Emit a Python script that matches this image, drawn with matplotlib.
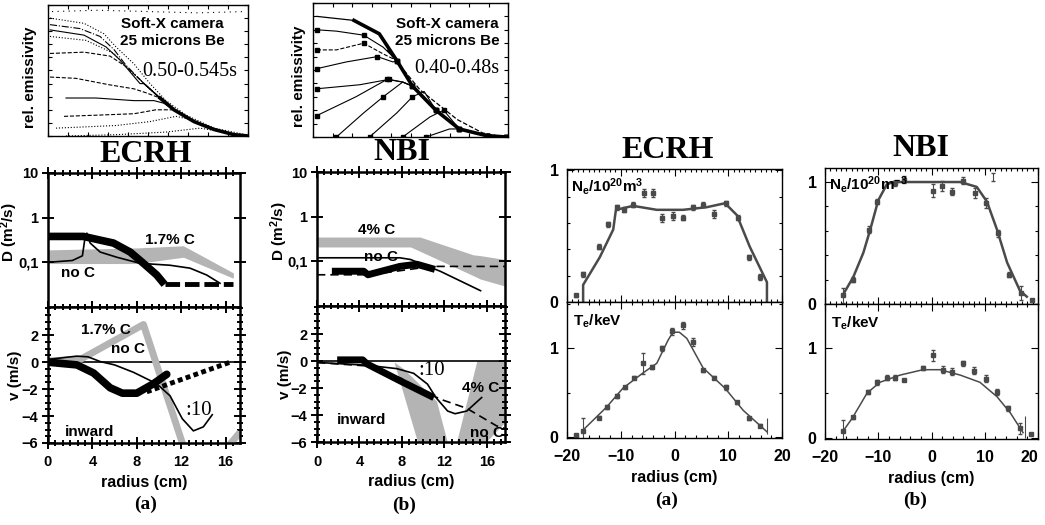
import matplotlib
matplotlib.use('Agg')
import matplotlib.pyplot as plt
from matplotlib.ticker import MultipleLocator, NullLocator, NullFormatter

plt.rcParams['font.family'] = ['Liberation Sans', 'DejaVu Sans']
plt.rcParams['font.weight'] = 'bold'
plt.rcParams['axes.labelweight'] = 'bold'
plt.rcParams['mathtext.fontset'] = 'custom'
plt.rcParams['mathtext.rm'] = 'Liberation Sans:bold'
plt.rcParams['mathtext.it'] = 'Liberation Sans:bold'
plt.rcParams['mathtext.bf'] = 'Liberation Sans:bold'
plt.rcParams['mathtext.default'] = 'rm'

W, H = 1045, 525
SERIF = 'Liberation Serif'
GRAY = '#b4b4b4'
DARK = '#4a4a4a'

# ---------- soft-X emissivity profiles (normalised radius, rel. emissivity) ----------
sxa_env_r = [0.48, 0.56, 0.63, 0.73, 0.83, 0.93, 1.0]
sxa_env = [0.40, 0.29, 0.20, 0.11, 0.05, 0.01, 0.0]
sxa_r = [[0.01, 0.18, 0.28, 0.34, 0.43, 0.51, 0.59, 0.69, 0.83, 0.99],
         [0.01, 0.16, 0.26, 0.33, 0.39],
         [0.01, 0.18, 0.29, 0.36, 0.46],
         [0.01, 0.19, 0.33, 0.41],
         [0.01, 0.18, 0.31, 0.39, 0.46],
         [0.01, 0.14, 0.31, 0.43, 0.49],
         [0.09, 0.24, 0.43, 0.53, 0.58],
         [0.08, 0.26, 0.43, 0.54, 0.61],
         [0.04, 0.34, 0.51, 0.64, 0.73],
         [0.09, 0.34, 0.59, 0.76, 0.84]]
sxa_e = [[0.90, 0.86, 0.78, 0.68, 0.55, 0.40, 0.27, 0.16, 0.06, 0.01],
         [0.85, 0.82, 0.76, 0.66, 0.54],
         [0.81, 0.77, 0.68, 0.58, 0.40],
         [0.76, 0.73, 0.63, 0.50],
         [0.63, 0.64, 0.61, 0.53, 0.43],
         [0.45, 0.44, 0.39, 0.36, 0.33],
         [0.29, 0.29, 0.27, 0.27, 0.25],
         [0.15, 0.16, 0.17, 0.20, 0.20],
         [0.06, 0.08, 0.11, 0.15, 0.12],
         [0.0, 0.01, 0.03, 0.06, 0.04]]
sxa_ls = [':', '-.', '-', ':', '--', '--', '-', '--', ':', ':']
sxa_top_r = [0.02, 0.25, 0.5, 0.75, 0.99]
sxa_top = [0.95, 0.96, 0.95, 0.94, 0.95]

sxb_env_r = [0.02, 0.21, 0.34, 0.43, 0.51, 0.63, 0.75, 0.89, 0.99]
sxb_env = [0.90, 0.87, 0.77, 0.57, 0.38, 0.20, 0.06, 0.01, 0.0]
sxb_out_r = [0.38, 0.55, 0.74, 0.87, 0.98]
sxb_out = [0.65, 0.35, 0.13, 0.03, 0.0]
sxb_r = [[0.02, 0.12, 0.26, 0.36],
         [0.02, 0.12, 0.26, 0.36],
         [0.02, 0.17, 0.33, 0.41],
         [0.02, 0.24, 0.39, 0.46],
         [0.02, 0.22, 0.38, 0.46],
         [0.12, 0.26, 0.36, 0.46],
         [0.29, 0.43, 0.51, 0.57],
         [0.46, 0.60, 0.67],
         [0.58, 0.70]]
sxb_e = [[0.80, 0.79, 0.76, 0.67],
         [0.65, 0.65, 0.70, 0.62],
         [0.51, 0.56, 0.60, 0.56],
         [0.36, 0.39, 0.43, 0.41],
         [0.16, 0.30, 0.43, 0.41],
         [0.0, 0.18, 0.30, 0.41],
         [0.0, 0.18, 0.30, 0.34],
         [0.0, 0.15, 0.20],
         [0.0, 0.06]]
sxb_ls = ['-', '--', '-', '-', '-', '-', '-', '-', '-']

# ---------- (a) ECRH transport coefficients ----------
a_gray_r = [0, 4, 8, 12.2, 16.7]
a_gray_hi = [0.19, 0.20, 0.21, 0.235, 0.058]
a_gray_lo = [0.094, 0.094, 0.094, 0.13, 0.044]
a_thick_r = [0, 3.2, 5.9, 7.4, 8.6, 9.8, 10.5]
a_thick_D = [0.38, 0.38, 0.27, 0.17, 0.095, 0.052, 0.032]
a_dash_r = [10.5, 16.7]
a_dash_D = [0.032, 0.032]
a_thin_r = [0, 2.2, 3.1, 3.3, 3.5, 3.8, 4.7, 6.2, 8.3, 11.0, 12.8, 14.3, 15.5]
a_thin_D = [0.1, 0.11, 0.14, 0.31, 0.45, 0.27, 0.17, 0.13, 0.095, 0.086, 0.074, 0.052, 0.034]

a_vgray_r = [0, 2.9, 8.6, 12.5]
a_vgray = [0.1, 0.2, 2.8, -7.0]
a_vgray2_r = [15.5, 17.3]
a_vgray2 = [-7.0, -5.2]
a_vthin_r = [0, 1.5, 2.6, 3.6, 4.7, 6.0, 7.7, 9.8, 11.0, 12.1, 13.1, 14.0, 14.8]
a_vthin = [0.2, 0.35, 0.45, 0.4, 0.05, -0.2, -0.75, -1.6, -2.5, -4.2, -5.1, -4.8, -3.9]
a_vthick_r = [0, 2.6, 4.1, 5.6, 6.7, 8.0, 9.5, 10.7]
a_vthick = [0.0, -0.2, -0.8, -1.9, -2.3, -2.3, -1.6, -0.9]
a_vdot_r = [8.9, 16.4]
a_vdot = [-2.2, 0.0]

# ---------- (b) NBI transport coefficients ----------
b_gray_r = [0, 8.8, 9.7, 14.7, 15.4, 17.7]
b_gray_hi = [0.35, 0.35, 0.35, 0.14, 0.134, 0.11]
b_gray_lo = [0.21, 0.21, 0.168, 0.048, 0.04, 0.028]
b_thick_r = [1.4, 4.4, 4.8, 7.8, 9.4, 11.1]
b_thick_D = [0.06, 0.06, 0.05, 0.077, 0.086, 0.066]
b_thin_r = [0, 7.8, 8.8, 11.6, 15.4]
b_thin_D = [0.12, 0.12, 0.11, 0.06, 0.022]
b_dash_r = [0, 5, 9.5, 11, 17.7]
b_dash_D = [0.05, 0.05, 0.07, 0.077, 0.077]

b_vgray1_r = [7.3, 8.2, 11.3, 12.3, 9.5]
b_vgray1 = [-0.1, -0.6, -3.0, -6.0, -6.0]
b_vgray2_r = [13.2, 15.1, 17.7, 17.7, 16.0]
b_vgray2 = [-6.0, 0.0, 0.0, -4.6, -6.0]
b_vthick_r = [1.9, 4.3, 4.7, 7.8, 11.0]
b_vthick = [0.1, 0.1, -0.2, -1.45, -2.7]
b_vthin_r = [0.3, 4.7, 7.5, 9.1, 10.4, 11.2, 12.3, 13.0, 14.1, 15.5]
b_vthin = [-0.1, -0.3, -0.55, -0.9, -1.7, -2.7, -3.7, -3.9, -3.7, -2.7]
b_vdash_r = [0, 4.7, 8, 11, 11.9, 14.1, 16.9, 17.7]
b_vdash = [-0.1, -0.35, -1.3, -2.6, -2.9, -3.5, -4.8, -5.0]

# ---------- density / temperature profiles ----------
ecrh_ne_r = [-18.3, -17.0, -14.0, -12.3, -10.7, -9.4, -7.7, -5.7, -4.0, -2.3, -0.3, 1.6, 3.4, 5.3, 7.3, 9.5, 11.8, 13.9, 15.9]
ecrh_ne = [0.05, 0.21, 0.42, 0.59, 0.72, 0.70, 0.74, 0.83, 0.83, 0.64, 0.65, 0.64, 0.72, 0.74, 0.67, 0.75, 0.64, 0.34, 0.19]
ecrh_ne_err = [0.01, 0.02, 0.02, 0.02, 0.02, 0.02, 0.02, 0.03, 0.03, 0.03, 0.03, 0.02, 0.02, 0.02, 0.03, 0.02, 0.02, 0.02, 0.02]
ecrh_ne_fit_r = [-17.0, -17.0, -13.9, -11.4, -10.9, -7.7, -3.3, 1.6, 6.0, 9.4, 11.6, 14.0, 17.2, 17.2]
ecrh_ne_fit = [0.0, 0.13, 0.34, 0.55, 0.70, 0.73, 0.70, 0.70, 0.72, 0.75, 0.66, 0.42, 0.15, 0.0]

ecrh_te_r = [-18.3, -17.0, -14.0, -12.6, -10.7, -9.2, -7.5, -5.8, -4.1, -2.4, -0.5, 1.6, 3.4, 5.3, 7.3, 9.5, 11.6, 13.9, 15.9]
ecrh_te = [0.02, 0.07, 0.22, 0.34, 0.46, 0.56, 0.67, 0.83, 0.79, 1.0, 1.19, 1.26, 1.07, 0.75, 0.67, 0.56, 0.39, 0.21, 0.13]
ecrh_te_err = [0.01, 0.15, 0.02, 0.02, 0.02, 0.02, 0.02, 0.12, 0.02, 0.03, 0.04, 0.04, 0.05, 0.02, 0.02, 0.03, 0.02, 0.02, 0.02]
ecrh_te_fit_r = [-17.0, -12.6, -9.6, -5.9, -3.3, -1.2, -0.3, 0.9, 2.3, 5.3, 9.4, 12.8, 17.2]
ecrh_te_fit = [0.08, 0.34, 0.55, 0.72, 0.83, 1.09, 1.18, 1.18, 1.11, 0.78, 0.55, 0.30, 0.06]

nbi_ne_r = [-16.7, -14.7, -11.7, -10.2, -6.8, -5.2, 0.3, 2.0, 3.8, 5.9, 8.2, 10.2, 12.5, 14.6, 16.8, 18.9]
nbi_ne = [0.07, 0.20, 0.61, 0.84, 0.99, 1.02, 0.93, 0.97, 0.92, 1.01, 0.91, 0.83, 0.58, 0.24, 0.09, 0.03]
nbi_ne_err = [0.06, 0.02, 0.03, 0.02, 0.02, 0.03, 0.05, 0.04, 0.03, 0.03, 0.04, 0.04, 0.03, 0.02, 0.06, 0.0]
nbi_ne_fit_r = [-16.7, -14.7, -12.8, -11.5, -10.0, -8.4, -7.2, 5.4, 8.5, 10.4, 12.3, 14.2, 16.6, 17.9]
nbi_ne_fit = [0.07, 0.22, 0.42, 0.61, 0.85, 0.98, 1.0, 1.0, 0.96, 0.84, 0.61, 0.34, 0.11, 0.06]

nbi_te_r = [-16.6, -14.8, -11.9, -10.2, -8.4, -6.8, -5.2, -1.6, 0.3, 2.2, 3.9, 6.0, 8.0, 10.2, 12.3, 14.4, 16.6, 18.6]
nbi_te = [0.08, 0.23, 0.51, 0.62, 0.67, 0.67, 0.64, 0.78, 0.92, 0.76, 0.74, 0.83, 0.75, 0.66, 0.51, 0.33, 0.11, 0.04]
nbi_te_err = [0.12, 0.02, 0.02, 0.03, 0.03, 0.03, 0.01, 0.02, 0.06, 0.04, 0.04, 0.03, 0.04, 0.04, 0.03, 0.03, 0.06, 0.0]
nbi_te_fit_r = [-16.7, -14.9, -12.1, -9.7, -5.9, -1.6, 1.6, 5.4, 9.1, 12.3, 14.8, 17.2]
nbi_te_fit = [0.07, 0.22, 0.50, 0.62, 0.70, 0.76, 0.76, 0.70, 0.62, 0.46, 0.28, 0.06]

edge_bar_r = [17.3, 11.5, 17.6]
edge_bar_v = [0.13, 1.04, 0.12]
edge_bar_err = [0.09, 0.035, 0.12]


def rect(l, t, r, b):
    return [l / W, 1 - b / H, (r - l) / W, (b - t) / H]


def ftext(x, y, s, **kw):
    fig.text(x / W, 1 - y / H, s, ha='center', va='center', **kw)


def style_left(ax):
    for s in ax.spines.values():
        s.set_linewidth(1.8)
    ax.tick_params(which='both', direction='inout', top=True, right=True, width=1.4, labelsize=10.5)
    ax.tick_params(which='major', length=8)
    ax.tick_params(which='minor', length=5)
    ax.tick_params(axis='x', pad=5)
    ax.tick_params(axis='y', pad=3)


def style_right(ax):
    for s in ax.spines.values():
        s.set_linewidth(1.0)
    ax.tick_params(which='both', direction='in', top=True, right=True, width=0.8, labelsize=11.5)
    ax.tick_params(which='major', length=5)
    ax.tick_params(which='minor', length=2.5)
    ax.tick_params(axis='x', pad=8)
    ax.tick_params(axis='y', pad=6)


def merged(r, e, env_r, env_e):
    rr = list(r) + [x for x in env_r if x > r[-1]]
    ee = list(e) + [y for x, y in zip(env_r, env_e) if x > r[-1]]
    return rr, ee


def softx(ax, env_r, env_e, curves_r, curves_e, styles, marker):
    for r, e, ls in zip(curves_r, curves_e, styles):
        rr, ee = merged(r, e, env_r, env_e)
        ax.plot(rr, ee, color='k', lw=0.8, ls=ls, marker=marker, ms=3, markevery=2)
    ax.plot(env_r, env_e, color='k', lw=0.9)
    ax.plot(env_r[1:], env_e[1:], color='k', lw=2.6)
    ax.set_xlim(0, 1)
    ax.set_ylim(0, 1)
    ax.xaxis.set_major_locator(MultipleLocator(0.1))
    ax.yaxis.set_major_locator(MultipleLocator(0.1))
    ax.xaxis.set_major_formatter(NullFormatter())
    ax.yaxis.set_major_formatter(NullFormatter())
    ax.tick_params(direction='in', top=True, right=True, length=3, width=0.8)
    for s in ax.spines.values():
        s.set_linewidth(1.0)


fig = plt.figure(figsize=(W / 100, H / 100), dpi=100)

# soft-X panels
ax = fig.add_axes(rect(48, 5, 248, 136))
softx(ax, sxa_env_r, sxa_env, sxa_r, sxa_e, sxa_ls, None)
ax.plot(sxa_top_r, sxa_top, color='k', lw=0.8, ls=(0, (1, 4)))
ax.text(0.62, 0.79, 'Soft-X camera\n25 microns Be', transform=ax.transAxes, ha='center', va='center',
        fontsize=11, linespacing=1.2)
ax.text(0.71, 0.49, '0.50-0.545s', transform=ax.transAxes, ha='center', va='center',
        fontsize=14.5, family=SERIF, fontweight='normal')
ax.text(-0.09, 0.45, 'rel. emissivity', transform=ax.transAxes, rotation=90, ha='center', va='center', fontsize=11)

ax = fig.add_axes(rect(313, 3, 508, 137))
softx(ax, sxb_env_r, sxb_env, sxb_r, sxb_e, sxb_ls, 's')
ax.plot(sxb_out_r, sxb_out, color='k', lw=0.9, ls='--')
ax.text(0.69, 0.78, 'Soft-X camera\n25 microns Be', transform=ax.transAxes, ha='center', va='center',
        fontsize=11, linespacing=1.2, bbox=dict(fc='white', ec='none', pad=0.5))
ax.text(0.74, 0.51, '0.40-0.48s', transform=ax.transAxes, ha='center', va='center',
        fontsize=14.5, family=SERIF, fontweight='normal', bbox=dict(fc='white', ec='none', pad=0.5))
ax.text(-0.07, 0.45, 'rel. emissivity', transform=ax.transAxes, rotation=90, ha='center', va='center', fontsize=11)

# (a) D
ax = fig.add_axes(rect(48, 173, 240, 307))
style_left(ax)
ax.fill_between(a_gray_r, a_gray_lo, a_gray_hi, color=GRAY, lw=0)
ax.plot(a_thick_r, a_thick_D, color='k', lw=5.5, solid_capstyle='butt')
ax.plot(a_dash_r, a_dash_D, color='k', lw=3.5, dashes=(3, 1))
ax.plot(a_thin_r, a_thin_D, color='k', lw=1.2)
ax.set_yscale('log')
ax.set_ylim(0.01, 10)
ax.set_xlim(0, 17.3)
ax.set_yticks([0.1, 1, 10], labels=['0,1', '1', '10'])
ax.yaxis.set_minor_locator(NullLocator())
ax.xaxis.set_major_locator(MultipleLocator(4))
ax.xaxis.set_minor_locator(MultipleLocator(4 / 6))
ax.xaxis.set_major_formatter(NullFormatter())
ax.text(11.0, 0.31, '1.7% C', ha='center', va='center', fontsize=11)
ax.text(2.7, 0.058, 'no C', ha='center', va='center', fontsize=11)
ax.text(-0.2, 0.56, 'D (m$^2$/s)', transform=ax.transAxes, rotation=90, ha='center', va='center', fontsize=11)

# (a) v
ax = fig.add_axes(rect(48, 307, 240, 443))
style_left(ax)
ax.axhline(0, color='k', lw=1.2)
ax.plot(a_vgray_r, a_vgray, color=GRAY, lw=5, solid_capstyle='butt')
ax.plot(a_vgray2_r, a_vgray2, color=GRAY, lw=5, solid_capstyle='butt')
ax.plot(a_vthin_r, a_vthin, color='k', lw=1.2)
ax.plot(a_vthick_r, a_vthick, color='k', lw=5.5, solid_capstyle='round')
ax.plot(a_vdot_r, a_vdot, color='k', lw=3.5, dashes=(1, 0.7))
ax.set_xlim(0, 17.3)
ax.set_ylim(-6, 4.1)
ax.set_yticks([-6, -4, -2, 0, 2])
ax.yaxis.set_minor_locator(MultipleLocator(0.5))
ax.set_xticks([0, 4, 8, 12, 16])
ax.xaxis.set_minor_locator(MultipleLocator(4 / 6))
ax.text(5.2, 2.4, '1.7% C', ha='center', va='center', fontsize=11)
ax.text(7.2, 1.0, 'no C', ha='center', va='center', fontsize=11)
ax.text(13.6, -3.6, ':10', ha='center', va='center', fontsize=15, family=SERIF, fontweight='normal')
ax.text(3.7, -5.2, 'inward', ha='center', va='center', fontsize=11)
ax.text(-0.17, 0.5, 'v (m/s)', transform=ax.transAxes, rotation=90, ha='center', va='center', fontsize=11)
ax.set_xlabel('radius (cm)', fontsize=11.5, labelpad=4)

# (b) D
ax = fig.add_axes(rect(317, 172, 505, 306))
style_left(ax)
ax.fill_between(b_gray_r, b_gray_lo, b_gray_hi, color=GRAY, lw=0)
ax.plot(b_dash_r, b_dash_D, color='k', lw=1.2, dashes=(5, 3))
ax.plot(b_thick_r, b_thick_D, color='k', lw=5, solid_capstyle='butt')
ax.plot(b_thin_r, b_thin_D, color='k', lw=1.2)
ax.set_yscale('log')
ax.set_ylim(0.01, 10)
ax.set_xlim(0, 17.7)
ax.set_yticks([0.1, 1, 10], labels=['0,1', '1', '10'])
ax.yaxis.set_minor_locator(NullLocator())
ax.xaxis.set_major_locator(MultipleLocator(4))
ax.xaxis.set_minor_locator(MultipleLocator(4 / 6))
ax.xaxis.set_major_formatter(NullFormatter())
ax.text(5.6, 0.5, '4% C', ha='center', va='center', fontsize=11)
ax.text(6.0, 0.125, 'no C', ha='center', va='center', fontsize=11)
ax.text(-0.2, 0.56, 'D (m$^2$/s)', transform=ax.transAxes, rotation=90, ha='center', va='center', fontsize=11)

# (b) v
ax = fig.add_axes(rect(317, 306, 505, 442))
style_left(ax)
ax.fill(b_vgray1_r, b_vgray1, color=GRAY, lw=0)
ax.fill(b_vgray2_r, b_vgray2, color=GRAY, lw=0)
ax.axhline(0, color='k', lw=1.2)
ax.plot(b_vdash_r, b_vdash, color='k', lw=1.2, dashes=(5, 3))
ax.plot(b_vthick_r, b_vthick, color='k', lw=5, solid_capstyle='butt')
ax.plot(b_vthin_r, b_vthin, color='k', lw=1.2)
ax.set_xlim(0, 17.7)
ax.set_ylim(-6, 4.1)
ax.set_yticks([-6, -4, -2, 0, 2])
ax.yaxis.set_minor_locator(MultipleLocator(0.5))
ax.set_xticks([0, 4, 8, 12, 16])
ax.xaxis.set_minor_locator(MultipleLocator(4 / 6))
ax.text(10.8, -0.7, ':10', ha='center', va='center', fontsize=15, family=SERIF, fontweight='normal')
ax.text(15.4, -2.0, '4% C', ha='center', va='center', fontsize=11)
ax.text(16.0, -5.3, 'no C', ha='center', va='center', fontsize=11)
ax.text(4.2, -4.4, 'inward', ha='center', va='center', fontsize=11)
ax.text(-0.17, 0.5, 'v (m/s)', transform=ax.transAxes, rotation=90, ha='center', va='center', fontsize=11)
ax.set_xlabel('radius (cm)', fontsize=11.5, labelpad=4)


def profile(ax, r, v, err, fit_r, fit_v, lw):
    ax.plot(fit_r, fit_v, color=DARK, lw=lw)
    ax.errorbar(r, v, yerr=err, fmt='s', ms=3.5, color=DARK, ecolor=DARK, elinewidth=0.8, capsize=1.5)
    ax.set_xlim(-20, 20)
    style_right(ax)


# ECRH Ne / Te
ax = fig.add_axes(rect(567, 169, 782, 302))
profile(ax, ecrh_ne_r, ecrh_ne, ecrh_ne_err, ecrh_ne_fit_r, ecrh_ne_fit, 1.8)
ax.set_ylim(0, 1.01)
ax.set_yticks([0, 1])
ax.yaxis.set_minor_locator(MultipleLocator(0.2))
ax.xaxis.set_major_locator(MultipleLocator(10))
ax.xaxis.set_minor_locator(MultipleLocator(1))
ax.xaxis.set_major_formatter(NullFormatter())
ax.text(0.02, 0.87, 'N$_e$/10$^{20}$m$^3$', transform=ax.transAxes, ha='left', va='center', fontsize=11)

ax = fig.add_axes(rect(567, 302, 782, 438))
profile(ax, ecrh_te_r, ecrh_te, ecrh_te_err, ecrh_te_fit_r, ecrh_te_fit, 1.1)
ax.errorbar(edge_bar_r[:1], edge_bar_v[:1], yerr=edge_bar_err[:1], fmt='none', ecolor=DARK, elinewidth=0.8)
ax.set_ylim(-0.01, 1.52)
ax.set_yticks([0, 1])
ax.yaxis.set_minor_locator(MultipleLocator(0.5))
ax.set_xticks([-20, -10, 0, 10, 20])
ax.xaxis.set_minor_locator(MultipleLocator(2))
ax.text(0.03, 0.86, 'T$_e$/keV', transform=ax.transAxes, ha='left', va='center', fontsize=11)
ax.set_xlabel('radius (cm)', fontsize=11.5, labelpad=4)

# NBI Ne / Te
ax = fig.add_axes(rect(825, 168, 1038, 304))
profile(ax, nbi_ne_r, nbi_ne, nbi_ne_err, nbi_ne_fit_r, nbi_ne_fit, 1.8)
ax.errorbar(edge_bar_r[1:2], edge_bar_v[1:2], yerr=edge_bar_err[1:2], fmt='none', ecolor=DARK,
            elinewidth=0.8, capsize=1.5)
ax.set_ylim(0, 1.115)
ax.set_yticks([0, 1])
ax.yaxis.set_minor_locator(MultipleLocator(0.2))
ax.xaxis.set_major_locator(MultipleLocator(10))
ax.xaxis.set_minor_locator(MultipleLocator(1))
ax.xaxis.set_major_formatter(NullFormatter())
ax.text(0.02, 0.88, 'N$_e$/10$^{20}$m$^{-3}$', transform=ax.transAxes, ha='left', va='center', fontsize=11)

ax = fig.add_axes(rect(825, 304, 1038, 439))
profile(ax, nbi_te_r, nbi_te, nbi_te_err, nbi_te_fit_r, nbi_te_fit, 1.1)
ax.errorbar(edge_bar_r[2:], edge_bar_v[2:], yerr=edge_bar_err[2:], fmt='none', ecolor=DARK, elinewidth=0.8)
ax.set_ylim(-0.01, 1.49)
ax.set_yticks([0, 1])
ax.yaxis.set_minor_locator(MultipleLocator(0.5))
ax.set_xticks([-20, -10, 0, 10, 20])
ax.xaxis.set_minor_locator(MultipleLocator(2))
ax.text(0.03, 0.86, 'T$_e$/keV', transform=ax.transAxes, ha='left', va='center', fontsize=11)
ax.set_xlabel('radius (cm)', fontsize=11.5, labelpad=4)
# keep the last tick label inside the canvas
ax.get_xticklabels()[-1].set_horizontalalignment('right')

# titles and panel letters
ftext(146, 154, 'ECRH', fontsize=23, family=SERIF)
ftext(402, 153, 'NBI', fontsize=23, family=SERIF)
ftext(668, 150, 'ECRH', fontsize=23, family=SERIF)
ftext(921, 149, 'NBI', fontsize=23, family=SERIF)
ftext(146, 504, '(a)', fontsize=14, family=SERIF)
ftext(404, 505, '(b)', fontsize=14, family=SERIF)
ftext(667, 500, '(a)', fontsize=14, family=SERIF)
ftext(915, 500, '(b)', fontsize=14, family=SERIF)

fig.savefig('out.png', dpi=100)
